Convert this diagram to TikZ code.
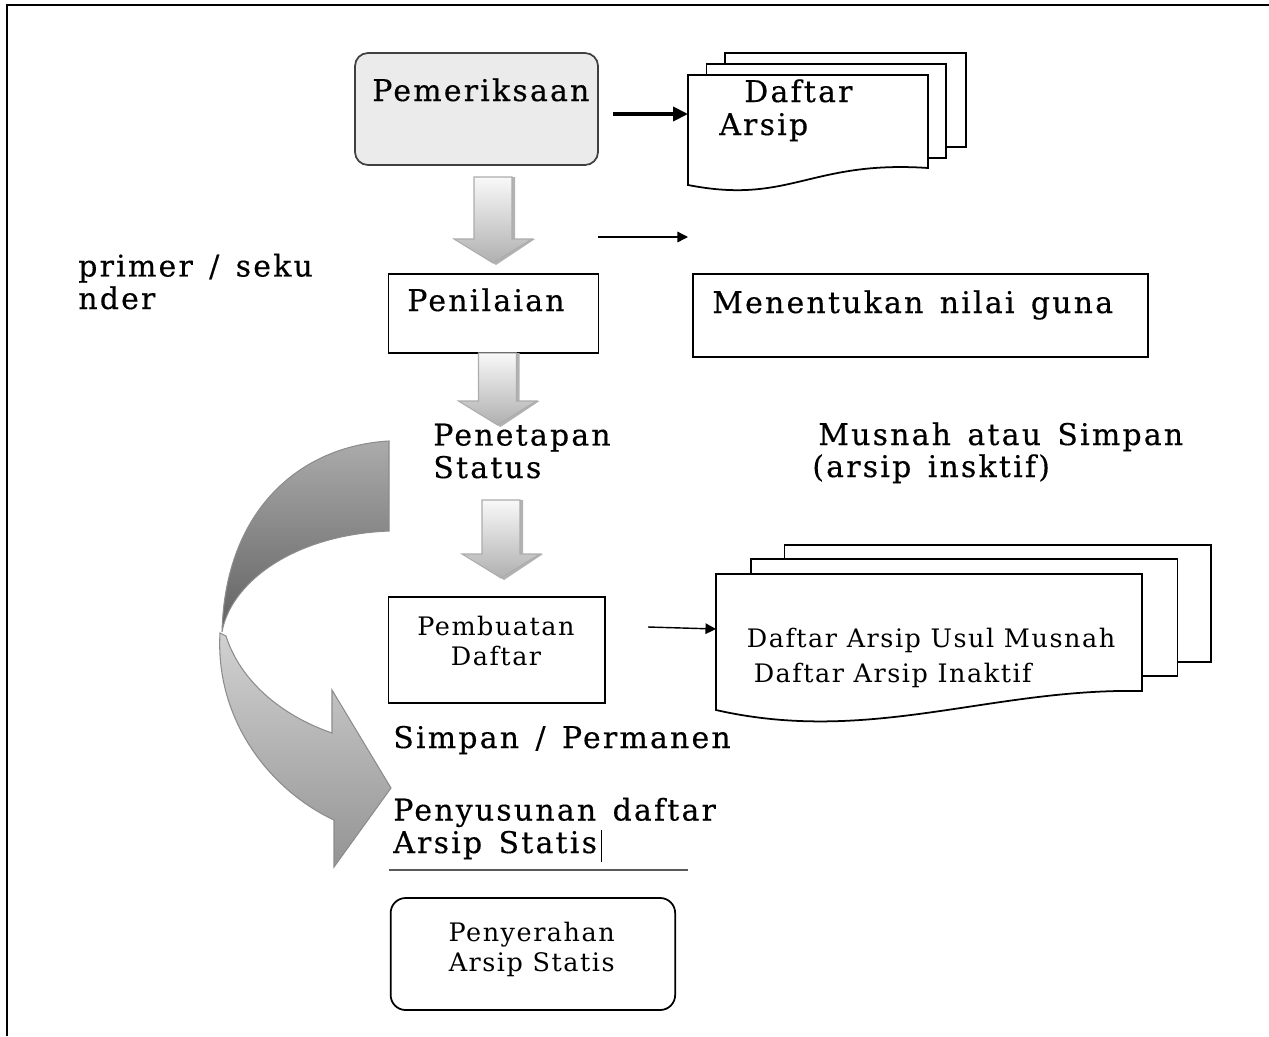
\documentclass[tikz,border=0pt]{standalone}
\usepackage{fontspec}
\setmainfont{DejaVu Serif}
\newfontfamily\slabfont[LetterSpace=7.5, FakeBold=0.4]{DejaVu Serif}
\newfontfamily\boxfont[LetterSpace=6]{DejaVu Serif}
\newcommand{\slabsize}{\fontsize{17}{18.5}\selectfont\spaceskip 0.55em\relax}
\usetikzlibrary{arrows.meta, calc, positioning}

\definecolor{boxgray}{HTML}{EBEBEB}

\tikzset{
  lbl/.style={font=\slabfont\slabsize, inner sep=0pt, anchor=base west, align=left},
  boxlbl/.style={font=\boxfont\fontsize{14.5}{17}\selectfont, inner sep=0pt, anchor=base, align=center},
  procbox/.style={draw, line width=1pt, inner sep=0pt},
  docpage/.style={draw, fill=white, line width=1pt},
  bigarrow/.style={-{Triangle[length=8.5pt,width=8pt]}, line width=2pt},
  thinarrow/.style={-{Triangle[length=6pt,width=6pt]}, line width=0.8pt},
}

% gray block arrow: centre x, top y, tip y
\newcommand{\blockarrow}[3]{
  \fill[gray!60] (#1-16,#2) -- (#1+22,#2) -- (#1+22,#3-24) -- (#1+42,#3-24) -- (#1+3,#3+2)
    -- (#1-36,#3-24) -- (#1-16,#3-24) -- cycle;
  \shade[top color=gray!5, bottom color=gray!62, draw=gray!65, line width=0.6pt]
    (#1-19,#2) -- (#1+19,#2) -- (#1+19,#3-24) -- (#1+39,#3-24) -- (#1,#3)
    -- (#1-39,#3-24) -- (#1-19,#3-24) -- cycle;
}

\begin{document}
\begin{tikzpicture}[x=0.2mm, y=-0.2mm]
\useasboundingbox (0,0) rectangle (1269,1036);
\draw[line width=1.7pt] (7,1036) -- (7,5) -- (1269,5);

% boxes
\node[procbox, rounded corners=2.6mm, fill=boxgray, draw=black!75,
      minimum width=48.6mm, minimum height=22.4mm] (pem) at (476.5,109) {};
\node[lbl] (pemtxt) at (372,101) {Pemeriksaan};

\node[procbox, minimum width=42mm, minimum height=15.8mm] (nilai) at (493.6,313.5) {};
\node[lbl] (nilaitxt) at (407,311) {Penilaian};

\node[procbox, minimum width=91mm, minimum height=16.6mm] (guna) at (920.5,315.5) {};
\node[lbl] (gunatxt) at (712,313) {Menentukan nilai guna};

\node[procbox, minimum width=43.3mm, minimum height=21.2mm] (buat) at (496.8,650) {};
\node[boxlbl] (buattxt) at (496,665) {Pembuatan\\Daftar};

\node[procbox, rounded corners=3mm, minimum width=56.9mm, minimum height=22.4mm] (serah) at (532.9,954) {};
\node[boxlbl] (serahtxt) at (531.7,971) {Penyerahan\\Arsip Statis};

% free labels
\node[lbl] (primer) at (78,309) {primer / seku\\nder};
\node[lbl] (tetap) at (433,478) {Penetapan\\Status};
\node[lbl] (musnah) at (818,445) {Musnah atau Simpan};
\node[lbl] (inaktif) at (812,477) {(arsip insktif)};
\node[lbl] (simpan) at (393,748) {Simpan / Permanen};
\node[lbl] (susun) at (393,853) {Penyusunan daftar\\Arsip Statis};
\draw[line width=0.5pt] (601,830) -- (601,862);
\draw[black!65, line width=1.2pt] (388.6,870) -- (687.5,870);

% multi documents
\draw[docpage] (725,53) rectangle (966,147);
\draw[docpage] (706.5,64) rectangle (946,158);
\draw[docpage] (688,75) -- (928,75) -- (928,168)
  .. controls (810,160) and (790,205) .. (688,185) -- cycle;
\node[lbl] (doc1a) at (744,102) {Daftar};
\node[lbl] (doc1b) at (719,135) {Arsip};

\draw[docpage] (784.5,545) rectangle (1211,662);
\draw[docpage] (750.7,559) rectangle (1177.6,676);
\draw[docpage] (716,574) -- (1142,574) -- (1142,691)
  .. controls (990,688) and (870,745) .. (716,710) -- cycle;
\node[boxlbl, anchor=base west] (doc2a) at (746.5,647) {Daftar Arsip Usul Musnah};
\node[boxlbl, anchor=base west] (doc2b) at (753.4,682) {Daftar Arsip Inaktif};

% thin connectors
\coordinate (pemout) at (613,114);
\coordinate (doc1in) at (688,114);
\draw[bigarrow] (pemout) -- (doc1in);

\coordinate (nilaiout) at (598,237);
\coordinate (gunain) at (688,237);
\draw[thinarrow] (nilaiout) -- (gunain);

\coordinate (buatout) at (648,627);
\coordinate (doc2in) at (716,629);
\draw[thinarrow] (buatout) -- (doc2in);

% block arrows
\blockarrow{493}{177}{263}
\blockarrow{497.5}{353}{425}
\blockarrow{501}{500}{578}

% curved arrow
\shade[top color=black!33, bottom color=black!62, draw=black!45, line width=0.6pt]
  (389,441) .. controls (300,446) and (225,510) .. (222,632)
  .. controls (230,585) and (290,535) .. (389,531) -- cycle;
\shade[top color=black!18, bottom color=black!42, draw=black!45, line width=0.6pt]
  (220,633) .. controls (215,720) and (270,790) .. (334,820)
  -- (334,867) -- (391,788) -- (332,690) -- (332,733)
  .. controls (280,715) and (240,680) .. (226,636) -- cycle;
\end{tikzpicture}
\end{document}
